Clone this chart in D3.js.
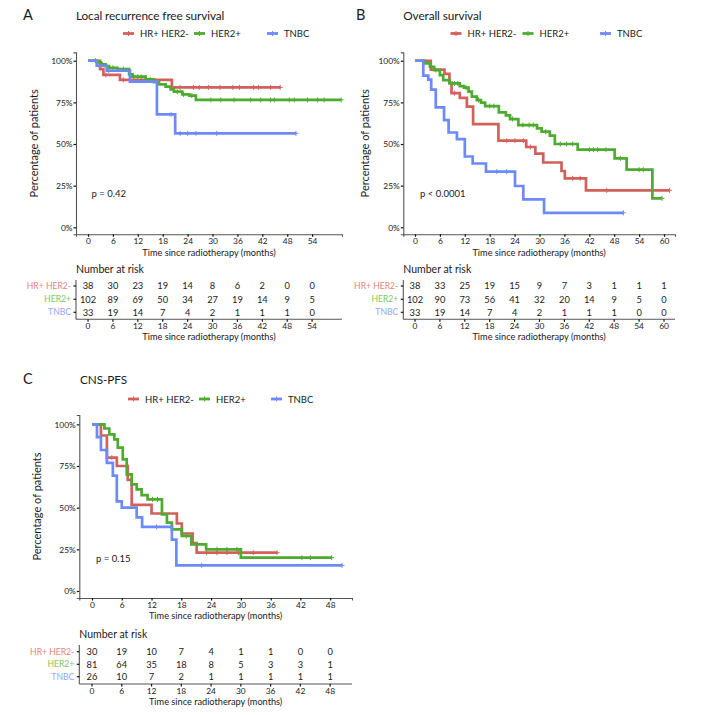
<!DOCTYPE html>
<html>
<head>
<meta charset="utf-8">
<script src="https://cdn.jsdelivr.net/npm/d3@7"></script>
<style>
  body { margin: 0; background: #fff; }
  svg text { font-family: "Lato", "Liberation Sans", sans-serif; fill: #1a1a1a; }
</style>
</head>
<body>
<div id="vis"></div>
<script>
// groups and colours
const groups = ['HR+ HER2-', 'HER2+', 'TNBC'];
const lineColors = ['#d2605b', '#4dab2f', '#6d8af8'];
const labelColors = ['#e8837d', '#7cc95b', '#8ea7ff'];

// A: local recurrence free survival  -> [months, survival]
const lrfsHR = [[0, 1], [2.9, 0.95], [3.7, 0.915], [7.7, 0.885], [20.2, 0.84], [46.3, 0.84]];
const lrfsHER2 = [[0, 1], [2.25, 0.99], [3.05, 0.978], [4.26, 0.968], [5.06, 0.958], [7.07, 0.95], [9.9, 0.918],
  [10.7, 0.904], [13.9, 0.888], [15.9, 0.872], [17.1, 0.858], [18.7, 0.844], [19.9, 0.828], [20.7, 0.814],
  [22.7, 0.798], [24.4, 0.79], [26, 0.765], [61, 0.765]];
const lrfsTNBC = [[0, 1], [2.1, 0.97], [4.5, 0.94], [10.1, 0.875], [16.6, 0.678], [21, 0.564], [50.1, 0.564]];
const lrfsHRCens = [4.3, 8.5, 22.2, 25.4, 26.8, 29, 31.8, 34.9, 36.5, 39.9, 41.1, 44, 46.3];
const lrfsHER2Cens = [1.8, 3.5, 6, 8.5, 11, 12, 12.8, 15, 21.5, 23, 25, 29.6, 32, 35.2, 39.2, 41.6, 44, 44.9,
  48.5, 49.7, 52.9, 55.3, 56.9, 61];
const lrfsTNBCCens = [5, 20, 22.2, 24, 26, 31, 50.1];

// B: overall survival
const osHR = [[0, 1], [3.8, 0.947], [7.1, 0.921], [8.3, 0.868], [8.8, 0.805], [10.8, 0.777], [12.5, 0.725],
  [14.0, 0.62], [20.1, 0.52], [26.8, 0.482], [29.0, 0.442], [30.9, 0.389], [35.3, 0.338], [36.1, 0.294],
  [41.2, 0.222], [61.3, 0.222]];
const osHER2 = [[0, 1], [2.4, 0.984], [3.6, 0.964], [4.6, 0.944], [6.0, 0.914], [6.8, 0.884], [8.3, 0.864],
  [10.8, 0.848], [11.8, 0.838], [12.9, 0.814], [13.7, 0.784], [14.9, 0.764], [15.9, 0.748], [16.9, 0.728],
  [20.2, 0.69], [21.9, 0.672], [22.9, 0.65], [24.9, 0.614], [29.4, 0.594], [30.5, 0.574], [32.5, 0.55],
  [33.7, 0.5], [39.2, 0.466], [48.1, 0.414], [51, 0.346], [57.2, 0.174], [59.5, 0.174]];
const osTNBC = [[0, 1], [2.0, 0.91], [3.2, 0.886], [3.9, 0.826], [5.0, 0.72], [7.0, 0.643], [8.1, 0.569],
  [10.1, 0.529], [12.0, 0.425], [13.9, 0.383], [17.1, 0.334], [24.1, 0.248], [26.1, 0.168], [31.1, 0.087],
  [50.2, 0.087]];
const osHRCens = [9.5, 22.1, 24.1, 26.1, 27.8, 38, 39.8, 46.2, 61.3];
const osHER2Cens = [5, 9.5, 10.3, 12.3, 15.3, 18, 19, 23.5, 26, 27.5, 28.5, 31.5, 35, 36.5, 38, 42, 43, 44, 46,
  49.5, 54, 55, 59.5];
const osTNBCCens = [19.7, 22.1, 50.2];

// C: CNS progression free survival
const pfsHR = [[0, 1], [1.8, 0.933], [3.0, 0.8], [5.0, 0.75], [7.2, 0.667], [8.0, 0.517], [12.0, 0.465],
  [17.1, 0.405], [18.1, 0.345], [20.3, 0.287], [21.1, 0.23], [37.3, 0.23]];
const pfsHER2 = [[0, 1], [2.5, 0.975], [3.5, 0.94], [4.5, 0.91], [5.2, 0.86], [6.2, 0.79], [7.0, 0.70],
  [8.0, 0.64], [9.0, 0.61], [10.0, 0.575], [11.2, 0.55], [14.1, 0.46], [15.1, 0.41], [16.1, 0.37],
  [18.1, 0.33], [20.0, 0.28], [23.0, 0.25], [30.0, 0.20], [48.3, 0.20]];
const pfsTNBC = [[0, 1], [1.0, 0.923], [1.8, 0.846], [3.0, 0.769], [4.2, 0.692], [5.0, 0.538], [6.0, 0.5],
  [9.0, 0.442], [10.1, 0.385], [16.1, 0.308], [17.0, 0.154], [50.4, 0.154]];
const pfsHRCens = [4, 23.1, 25.2, 27.2, 29.5, 32.5, 37.3];
const pfsHER2Cens = [12.2, 13.2, 19, 25.2, 27.2, 29.2, 42.3, 44, 48.3];
const pfsTNBCCens = [13, 22.1, 50.4];

// number at risk tables
const riskTicksA = [0, 6, 12, 18, 24, 30, 36, 42, 48, 54];
const riskA = [[38, 30, 23, 19, 14, 8, 6, 2, 0, 0], [102, 89, 69, 50, 34, 27, 19, 14, 9, 5], [33, 19, 14, 7, 4, 2, 1, 1, 1, 0]];
const riskTicksB = [0, 6, 12, 18, 24, 30, 36, 42, 48, 54, 60];
const riskB = [[38, 33, 25, 19, 15, 9, 7, 3, 1, 1, 1], [102, 90, 73, 56, 41, 32, 20, 14, 9, 5, 0], [33, 19, 14, 7, 4, 2, 1, 1, 1, 0, 0]];
const riskTicksC = [0, 6, 12, 18, 24, 30, 36, 42, 48];
const riskC = [[30, 19, 10, 7, 4, 1, 1, 0, 0], [81, 64, 35, 18, 8, 5, 3, 3, 1], [26, 10, 7, 2, 1, 1, 1, 1, 1]];

const yTicks = [0, 0.25, 0.5, 0.75, 1];

const panels = [
  {
    letter: 'A', title: 'Local recurrence free survival', pText: 'p = 0.42',
    curves: [lrfsHR, lrfsHER2, lrfsTNBC], cens: [lrfsHRCens, lrfsHER2Cens, lrfsTNBCCens],
    riskTicks: riskTicksA, risk: riskA,
    letterX: 23, titleX: 76, headY: 19.5, legendY: 33.5, legendX: [123, 194, 267],
    xDom: [-2.9, 61.2], xRange: [76, 342], yDom: [-0.042, 1.05], yRange: [234.3, 52.4],
    pX: 91.5, pY: 196.5, yTitleX: 38,
    riskHeadY: 273, riskRows: [286, 299.3, 312.3], riskTop: 280, riskBottom: 319.3,
  },
  {
    letter: 'B', title: 'Overall survival', pText: 'p < 0.0001',
    curves: [osHR, osHER2, osTNBC], cens: [osHRCens, osHER2Cens, osTNBCCens],
    riskTicks: riskTicksB, risk: riskB,
    letterX: 356, titleX: 403.3, headY: 19.5, legendY: 33.5, legendX: [450.5, 522.5, 600],
    xDom: [-2.82, 62.65], xRange: [403.3, 675], yDom: [-0.042, 1.05], yRange: [234.3, 52.4],
    pX: 420, pY: 196.5, yTitleX: 369,
    riskHeadY: 273, riskRows: [286, 299.3, 312.3], riskTop: 280, riskBottom: 319.3,
  },
  {
    letter: 'C', title: 'CNS-PFS', pText: 'p = 0.15',
    curves: [pfsHR, pfsHER2, pfsTNBC], cens: [pfsHRCens, pfsHER2Cens, pfsTNBCCens],
    riskTicks: riskTicksC, risk: riskC,
    letterX: 23, titleX: 80, headY: 384, legendY: 399, legendX: [128, 199, 271],
    xDom: [-2.56, 52.4], xRange: [79.3, 352], yDom: [-0.042, 1.056], yRange: [598, 415],
    pX: 96, pY: 562, yTitleX: 41,
    riskHeadY: 638, riskRows: [651.7, 664.3, 676.7], riskTop: 645, riskBottom: 684,
  },
];

const svg = d3.select('#vis').append('svg').attr('width', 719).attr('height', 715);

const survAt = (steps, t) => {
  let s = 1;
  for (const [tt, ss] of steps) if (tt <= t) s = ss;
  return s;
};

const plusPath = (x, y, r) => `M${x - r},${y}h${2 * r}M${x},${y - r}v${2 * r}`;

function drawPanel(p) {
  const g = svg.append('g');
  const x = d3.scaleLinear().domain(p.xDom).range(p.xRange);
  const y = d3.scaleLinear().domain(p.yDom).range(p.yRange);
  const midX = (p.xRange[0] + p.xRange[1]) / 2;

  // headings
  g.append('text').attr('x', p.letterX).attr('y', p.headY).attr('font-size', 14.5).text(p.letter);
  g.append('text').attr('x', p.titleX).attr('y', p.headY).attr('font-size', 11.8)
    .attr('letter-spacing', -0.1).text(p.title);

  // legend
  groups.forEach((name, i) => {
    const lx = p.legendX[i];
    g.append('line').attr('x1', lx).attr('x2', lx + 11).attr('y1', p.legendY).attr('y2', p.legendY)
      .attr('stroke', lineColors[i]).attr('stroke-width', 2.8);
    g.append('path').attr('d', plusPath(lx + 5.5, p.legendY, 2.5)).attr('stroke', lineColors[i]).attr('stroke-width', 1);
    g.append('text').attr('x', lx + 17).attr('y', p.legendY + 3.5).attr('font-size', 9.5).text(name);
  });

  // axes
  const xAxis = d3.axisBottom(x).tickValues(p.riskTicks).tickSizeOuter(0).tickSize(2.5);
  const yAxis = d3.axisLeft(y).tickValues(yTicks).tickFormat(d3.format('.0%')).tickSizeOuter(0).tickSize(2.5);

  const gx = g.append('g').attr('transform', `translate(0,${p.yRange[0]})`).call(xAxis);
  const gy = g.append('g').attr('transform', `translate(${p.xRange[0]},0)`).call(yAxis);
  [gx, gy].forEach((a) => {
    a.select('.domain').attr('stroke', '#555').attr('stroke-width', 1.1);
    a.selectAll('.tick line').attr('stroke', '#111').attr('stroke-width', 1.2);
    a.selectAll('.tick text').attr('font-size', 8.4).attr('fill', '#1a1a1a').attr('font-family', null);
  });
  gx.selectAll('.tick text').attr('dy', null).attr('y', 10);
  gy.selectAll('.tick text').attr('x', -3.5);

  const midY = (p.yRange[0] + p.yRange[1]) / 2;
  g.append('text').attr('transform', `translate(${p.yTitleX},${midY}) rotate(-90)`)
    .attr('text-anchor', 'middle').attr('font-size', 11).text('Percentage of patients');
  g.append('text').attr('x', midX).attr('y', p.yRange[0] + 21.3).attr('text-anchor', 'middle')
    .attr('font-size', 9.2).text('Time since radiotherapy (months)');

  // curves
  const line = d3.line().x((d) => x(d[0])).y((d) => y(d[1])).curve(d3.curveStepAfter);
  p.curves.forEach((steps, i) => {
    g.append('path').datum(steps).attr('fill', 'none').attr('stroke', lineColors[i])
      .attr('stroke-width', 2.7).attr('d', line);
    g.append('path')
      .attr('d', p.cens[i].map((t) => plusPath(x(t), y(survAt(steps, t)), 2.5)).join(''))
      .attr('stroke', lineColors[i]).attr('stroke-width', 1).attr('fill', 'none');
  });

  g.append('text').attr('x', p.pX).attr('y', p.pY).attr('font-size', 9.5).text(p.pText);

  // number at risk table
  g.append('text').attr('x', p.xRange[0]).attr('y', p.riskHeadY).attr('font-size', 10.5).text('Number at risk');
  const gr = g.append('g');
  gr.append('line').attr('x1', p.xRange[0]).attr('x2', p.xRange[0]).attr('y1', p.riskTop).attr('y2', p.riskBottom)
    .attr('stroke', '#555').attr('stroke-width', 1.1);
  gr.append('line').attr('x1', p.xRange[0]).attr('x2', p.xRange[1]).attr('y1', p.riskBottom).attr('y2', p.riskBottom)
    .attr('stroke', '#555').attr('stroke-width', 1.1);
  p.risk.forEach((row, i) => {
    const ry = p.riskRows[i];
    gr.append('line').attr('x1', p.xRange[0] - 2.5).attr('x2', p.xRange[0]).attr('y1', ry).attr('y2', ry)
      .attr('stroke', '#111').attr('stroke-width', 1.2);
    gr.append('text').attr('x', p.xRange[0] - 5).attr('y', ry).attr('dy', '0.35em').attr('text-anchor', 'end')
      .attr('font-size', 8.6).style('fill', labelColors[i]).text(groups[i]);
    row.forEach((n, j) => {
      gr.append('text').attr('x', x(p.riskTicks[j])).attr('y', ry).attr('dy', '0.35em')
        .attr('text-anchor', 'middle').attr('font-size', 9.3).text(n);
    });
  });
  p.riskTicks.forEach((t) => {
    gr.append('line').attr('x1', x(t)).attr('x2', x(t)).attr('y1', p.riskBottom).attr('y2', p.riskBottom + 2.5)
      .attr('stroke', '#111').attr('stroke-width', 1.2);
    gr.append('text').attr('x', x(t)).attr('y', p.riskBottom + 10).attr('text-anchor', 'middle')
      .attr('font-size', 8.4).text(t);
  });
  gr.append('text').attr('x', midX).attr('y', p.riskBottom + 20.5).attr('text-anchor', 'middle')
    .attr('font-size', 9.2).text('Time since radiotherapy (months)');
}

panels.forEach(drawPanel);
</script>
</body>
</html>
